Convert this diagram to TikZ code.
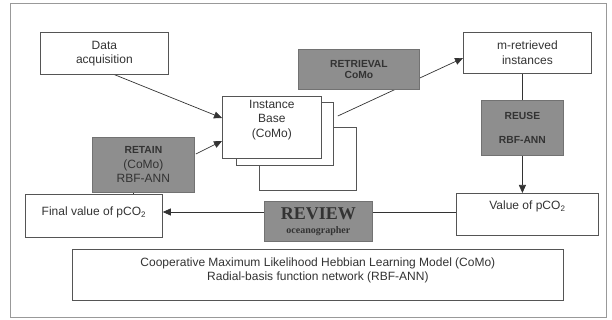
\documentclass[tikz,border=0pt]{standalone}
\usepackage{fontspec}
\setmainfont{Liberation Sans}
\newfontfamily\tnr{Liberation Serif}
\usetikzlibrary{calc,arrows.meta,backgrounds}
\definecolor{txt}{HTML}{333333}
\definecolor{bord}{HTML}{555555}
\definecolor{gfill}{HTML}{8E8E8E}
\definecolor{frame}{HTML}{999999}
\tikzset{
  box/.style={draw=bord, line width=0.8pt, fill=white, inner sep=0pt, anchor=north west,
    align=center, text=txt, font=\fontsize{12}{14.5}\selectfont},
  gbox/.style={box, fill=gfill, draw=gfill!80!black},
  conn/.style={draw=black!80, line width=0.7pt},
  arr/.style={conn, -{Triangle[length=8pt,width=7pt]}},
}
\begin{document}
\begin{tikzpicture}[x=1pt,y=-1pt]
\useasboundingbox (0,0) rectangle (612,320);
\node[draw=frame, line width=1.2pt, minimum width=596pt, minimum height=314pt, anchor=north west, inner sep=0pt] (frame) at (10,3) {};

\node[box, minimum width=128pt, minimum height=42pt] (data) at (40,32) {Data\\acquisition};
\node[box, minimum width=97pt, minimum height=63pt] (inst3) at (259,127) {};
\node[box, minimum width=97pt, minimum height=63pt] (inst2) at (236,102) {};
\node[box, minimum width=99pt, minimum height=62pt] (inst1) at (222,96) {Instance\\Base\\(CoMo)\\[3pt]};
\node[gbox, minimum width=121pt, minimum height=40pt, font=\fontsize{10.3}{11.5}\selectfont\bfseries] (retr) at (298,49) {RETRIEVAL\\CoMo};
\node[box, minimum width=128pt, minimum height=41pt] (mret) at (463,32) {m-retrieved\\instances};
\node[gbox, minimum width=82pt, minimum height=55pt, font=\fontsize{10.3}{24}\selectfont\bfseries] (reuse) at (481,100) {REUSE\\RBF-ANN};
\node[box, minimum width=142pt, minimum height=42pt,
  label={[anchor=north, inner sep=0pt, yshift=-8pt, text=txt, font=\fontsize{12}{14}\selectfont]north:Value of pCO\textsubscript{2}}] (value) at (456,193) {};
\node[gbox, minimum width=108pt, minimum height=40pt, font=\tnr\bfseries] (review) at (264,201)
  {{\fontsize{18}{18}\selectfont REVIEW}\\[2pt]{\fontsize{10}{10}\selectfont oceanographer}};
\node[box, minimum width=137pt, minimum height=43pt,
  label={[anchor=north, inner sep=0pt, yshift=-13pt, text=txt, font=\fontsize{12}{14}\selectfont]north:Final value of pCO\textsubscript{2}}] (final) at (25,194) {};
\node[gbox, minimum width=102pt, minimum height=55pt] (retain) at (92,137)
  {{\fontsize{10.3}{12}\selectfont\bfseries RETAIN}\\(CoMo)\\RBF-ANN};
\node[box, minimum width=491pt, minimum height=51pt,
  label={[anchor=north, inner sep=0pt, yshift=-9pt, text=txt, align=center, font=\fontsize{12}{14}\selectfont]north:Cooperative Maximum Likelihood Hebbian Learning Model (CoMo)\\Radial-basis function network (RBF-ANN)}] (bottom) at (72,249) {};

\begin{scope}[on background layer]
\draw[arr] ($(data.south)+(3,-3)$) -- ($(inst1.north west)+(0,22)$);
\draw[arr] ($(retain.north east)+(1,17)$) -- ($(inst1.north west)+(0,45)$);
\draw[arr] ($(inst2.north east)+(4,14)$) -- ($(mret.north west)+(0,26)$);
\draw[conn] (reuse.north |- mret.south) -- (reuse.north);
\draw[arr] (reuse.south) -- (reuse.south |- value.north);
\draw[conn] ($(value.north west)+(0,19)$) -- ($(review.north east)+(0,11)$);
\draw[arr] ($(review.north west)+(0,11)$) -- ($(final.north east)+(0,18)$);
\draw[conn] ($(retain.south west)+(41,0)$) -- ($(final.north west)+(108,0)$);
\end{scope}
\end{tikzpicture}
\end{document}
